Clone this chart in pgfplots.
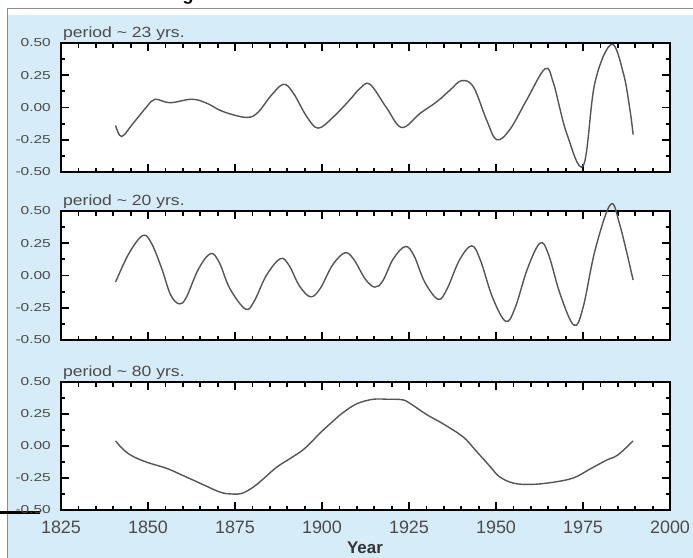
\documentclass[border=0pt]{standalone}
\usepackage{pgfplots}
\pgfplotsset{compat=1.18}
\usepackage{fontspec}
\setmainfont{Liberation Sans}

\definecolor{bgblue}{RGB}{214,236,248}
\definecolor{curvecol}{RGB}{85,85,85}
\definecolor{lbl}{RGB}{75,75,75}

\pgfplotsset{
  panel/.style={
    scale only axis, width=609bp, height=129bp, anchor=north west,
    xmin=1825, xmax=2000, ymin=-0.5, ymax=0.5,
    xtick={1825,1850,...,2000}, minor x tick num=4,
    ytick={-0.5,-0.25,0,0.25,0.5}, minor y tick num=1,
    yticklabels={-0.50,-0.25,0.00,0.25,0.50},
    tick align=inside, tick pos=both,
    major tick length=8bp, minor tick length=4.5bp,
    every tick/.style={black, line width=1.8bp},
    axis line style={black, line width=2bp},
    axis background/.style={fill=white},
    yticklabel style={font=\fontsize{11.5}{12}\selectfont, text=lbl, xscale=1.35, xshift=-4bp},
    xticklabel style={font=\fontsize{18}{20}\selectfont, text=lbl, yshift=-7bp},
    clip=false,
  },
  wave/.style={curvecol, line width=1.4bp, smooth, tension=0.6},
}

\begin{document}
\begin{tikzpicture}
\path[use as bounding box] (0,0) rectangle (693bp,-558bp);
\fill[white] (0,0) rectangle (693bp,-558bp);
\fill[bgblue] (8bp,-15bp) rectangle (693bp,-558bp);
\draw[black!45, line width=1bp] (7.5bp,-558bp) -- (7.5bp,-8bp) -- (693bp,-8bp);
\draw[black, line width=3bp] (0,-512bp) -- (40bp,-512bp);
\begin{scope}
  \clip (0,0) rectangle (693bp,-558bp);
  \node[anchor=base, inner sep=0, font=\bfseries\fontsize{18}{20}\selectfont] at (188bp,-0.5bp) {g};
\end{scope}

% period ~ 23 yrs
\begin{axis}[panel, at={(61bp,-43bp)}, xticklabels={}]
\addplot[wave] coordinates {
 (1840.7,-0.14) (1842.4,-0.225) (1845.8,-0.12) (1849.6,0.005) (1852,0.064)
 (1856.3,0.037) (1862.6,0.064) (1866.9,0.033) (1871.6,-0.032) (1878.4,-0.077)
 (1881.7,-0.035) (1885.1,0.084) (1888.9,0.18) (1891.8,0.11) (1895.6,-0.07)
 (1898.9,-0.16) (1903.2,-0.075) (1908,0.06) (1911,0.15) (1913.8,0.18)
 (1918.5,0.0) (1922.9,-0.155) (1928.2,-0.045) (1933,0.045) (1937,0.14)
 (1940.1,0.208) (1943.5,0.16) (1947.3,-0.097) (1950.2,-0.25) (1954,-0.17)
 (1958.8,0.058) (1964.1,0.30) (1966.5,0.19) (1970.3,-0.2) (1975.1,-0.45)
 (1978.4,0.19) (1983.2,0.49) (1986.6,0.265) (1988.5,-0.02) (1989.4,-0.21)
};
\end{axis}

% period ~ 20 yrs
\begin{axis}[panel, at={(61bp,-211bp)}, xticklabels={}]
\addplot[wave] coordinates {
 (1840.7,-0.05) (1844.5,0.17) (1848.5,0.31) (1851,0.25) (1854,0.05)
 (1856.5,-0.15) (1859,-0.22) (1861,-0.17) (1864.5,0.05) (1868,0.17)
 (1870.5,0.1) (1873.5,-0.1) (1878,-0.26) (1880.5,-0.2) (1884,0.0)
 (1888,0.13) (1890.5,0.08) (1893.5,-0.08) (1896.7,-0.165) (1899.5,-0.1)
 (1903,0.08) (1906.5,0.175) (1909,0.13) (1912.5,-0.03) (1915.2,-0.09)
 (1917.5,-0.04) (1920.5,0.13) (1924,0.225) (1926.5,0.15) (1929.5,-0.05)
 (1933.4,-0.185) (1936,-0.1) (1939.5,0.12) (1943,0.23) (1945.5,0.12)
 (1949,-0.17) (1952.8,-0.355) (1955.5,-0.25) (1959,0.05) (1962.6,0.25)
 (1965,0.17) (1968.5,-0.15) (1972.4,-0.385) (1975,-0.25) (1978.5,0.2)
 (1982.9,0.55) (1985.5,0.4) (1989.4,-0.035)
};
\end{axis}

% period ~ 80 yrs
\begin{axis}[panel, at={(61bp,-382bp)}, height=128bp,
  xticklabels={1825,1850,1875,1900,1925,1950,1975,2000}]
\addplot[wave] coordinates {
 (1840.7,0.04) (1843,-0.03) (1845.8,-0.083) (1850,-0.13) (1855.4,-0.175)
 (1860,-0.23) (1864.9,-0.29) (1870.7,-0.36) (1874,-0.375) (1877,-0.37)
 (1880.3,-0.32) (1883,-0.26) (1887,-0.165) (1891,-0.095) (1895,-0.02)
 (1899.4,0.1) (1903,0.19) (1906,0.26) (1910,0.33) (1914.7,0.365)
 (1919,0.365) (1923.3,0.36) (1926,0.32) (1930.1,0.245) (1935,0.17)
 (1940.6,0.07) (1944,-0.03) (1948.3,-0.16) (1951,-0.24) (1955,-0.29)
 (1960,-0.30) (1966,-0.285) (1972.2,-0.25) (1977,-0.18) (1981.8,-0.11)
 (1985,-0.07) (1989.4,0.04)
};
\end{axis}

\begin{scope}[every node/.style={anchor=base west, inner sep=0, text=lbl, font=\fontsize{14.8}{16}\selectfont, xscale=1.19}]
  \node at (63bp,-37bp) {period \textasciitilde\ 23 yrs.};
  \node at (63bp,-205bp) {period \textasciitilde\ 20 yrs.};
  \node at (63bp,-376bp) {period \textasciitilde\ 80 yrs.};
\end{scope}
\node[font=\bfseries\fontsize{17}{18}\selectfont, text=black!80] at (365bp,-548bp) {Year};
\end{tikzpicture}
\end{document}
